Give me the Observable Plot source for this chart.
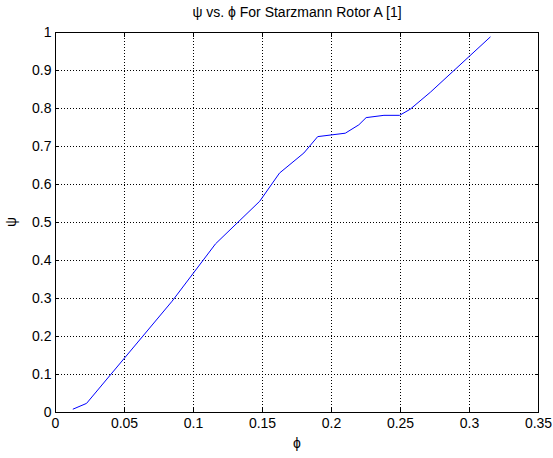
<!DOCTYPE html>
<html><head><meta charset="utf-8">
<script src="https://cdn.jsdelivr.net/npm/d3@7"></script>
<script src="https://cdn.jsdelivr.net/npm/@observablehq/plot@0.6"></script>
<style>
body{margin:0;background:#fff;}
svg{font-family:"Liberation Sans",Arial,sans-serif;}
</style></head>
<body><div id="chart"></div>
<script>
const phi = [0.0128,0.0225,0.0845,0.116,0.148,0.1623,0.180,0.190,0.210,0.2198,0.2251,0.238,0.2493,0.257,0.2717,0.315];
const psi = [0.009,0.024,0.293,0.444,0.556,0.630,0.683,0.726,0.735,0.757,0.776,0.782,0.782,0.798,0.843,0.988];
const xTicks = [0,0.05,0.1,0.15,0.2,0.25,0.3,0.35];
const yTicks = [0,0.1,0.2,0.3,0.4,0.5,0.6,0.7,0.8,0.9,1];
const title = "ψ vs. ϕ For Starzmann Rotor A [1]";
const xLabel = "ϕ";
const yLabel = "ψ";

const data = phi.map((p,i)=>({phi:p, psi:psi[i]}));
const fmt = d => String(d);

const chart = Plot.plot({
  width: 553, height: 458,
  marginLeft: 55, marginRight: 15, marginTop: 32, marginBottom: 46,
  style: {fontSize: "14px", fontFamily: "'Liberation Sans', Arial, sans-serif", color: "#000", background: "#fff"},
  x: {domain: [0, 0.35]},
  y: {domain: [0, 1]},
  marks: [
    Plot.ruleX(xTicks.slice(1,-1), {stroke: "#000", strokeDasharray: "1,2", strokeWidth: 1}),
    Plot.ruleY(yTicks.slice(1,-1), {stroke: "#000", strokeDasharray: "1,2", strokeWidth: 1}),
    Plot.axisX({ticks: xTicks, tickSize: -4, tickFormat: fmt, label: null, tickPadding: 10, strokeWidth: 1}),
    Plot.axisX({anchor: "top", ticks: xTicks, tickSize: -4, tickFormat: () => "", label: null}),
    Plot.axisY({ticks: yTicks, tickSize: -4, tickFormat: fmt, label: null, tickPadding: 8}),
    Plot.axisY({anchor: "right", ticks: yTicks, tickSize: -4, tickFormat: () => "", label: null}),
    Plot.frame({stroke: "#000", strokeWidth: 1}),
    Plot.line(data, {x: "phi", y: "psi", stroke: "#0000ff", strokeWidth: 1})
  ]
});

const svg = d3.select(chart);
svg.append("text").attr("x", 297).attr("y", 17).attr("text-anchor", "middle")
  .attr("font-size", 14).attr("fill", "#000").text(title);
svg.append("text").attr("x", 297).attr("y", 448).attr("text-anchor", "middle")
  .attr("font-size", 14).attr("fill", "#000").text(xLabel);
svg.append("text").attr("transform", "translate(16,222) rotate(-90)").attr("text-anchor", "middle")
  .attr("font-size", 14).attr("fill", "#000").text(yLabel);
document.getElementById("chart").appendChild(chart);
</script></body></html>
